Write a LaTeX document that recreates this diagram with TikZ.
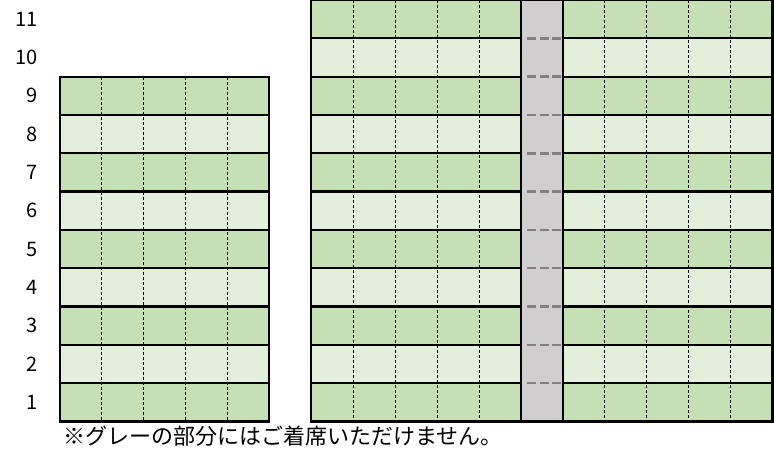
\documentclass[tikz,border=0pt]{standalone}
\usepackage{fontspec}
\setmainfont{Noto Sans CJK JP}
\definecolor{dg}{HTML}{C5E0B4}
\definecolor{lg}{HTML}{E2EFDA}
\definecolor{gr}{HTML}{D0CECE}
\definecolor{dsh}{HTML}{808080}
\tikzset{
 rowlbl/.style={anchor=east,font=\fontsize{20}{24}\selectfont,inner sep=0pt},
 frame/.style={line width=2.2pt,black},
 divider/.style={line width=1pt,black,dash pattern=on 3pt off 2pt},
 aisle/.style={line width=2.5pt,dsh,dash pattern=on 9pt off 3.5pt},
 notetext/.style={anchor=west,font=\fontsize{22}{26}\selectfont,inner sep=0pt}
}
\begin{document}
\begin{tikzpicture}[x=1pt,y=-1pt]
\useasboundingbox (0,0) rectangle (774,460);
% row fills and labels
\foreach \i in {1,...,11} {
  \pgfmathsetmacro\yt{421.5-\i*38.32}
  \pgfmathsetmacro\yb{\yt+38.32}
  \pgfmathtruncatemacro\odd{mod(\i,2)}
  \ifnum\odd=1 \def\c{dg}\else\def\c{lg}\fi
  \fill[\c] (311.3,\yt) rectangle (521.3,\yb);
  \fill[\c] (563,\yt) rectangle (772.5,\yb);
  \ifnum\i<10 \fill[\c] (60,\yt) rectangle (269,\yb); \fi
  \node[rowlbl] (r\i) at (38,{\yt+19.16}) {\i};
}
% aisle
\fill[gr] (521.3,0) rectangle (563,421.5);
% vertical seat dividers
\foreach \k in {1,...,4} {
  \draw[divider] ({60+\k*41.8},76.7) -- ({60+\k*41.8},421.5);
  \draw[divider] ({311.3+\k*42},0) -- ({311.3+\k*42},421.5);
  \draw[divider] ({563+\k*41.9},0) -- ({563+\k*41.9},421.5);
}
% row boundaries
\foreach \j in {1,...,10} {
  \pgfmathsetmacro\y{421.5-\j*38.32}
  \draw[frame] (311.3,\y) -- (521.3,\y);
  \draw[frame] (563,\y) -- (772.5,\y);
  \ifnum\j<9 \draw[frame] (60,\y) -- (269,\y); \fi
  \draw[aisle] (527,\y) -- (561,\y);
}
% frames
\draw[frame] (60,76.7) rectangle (269,421.5);
\draw[frame] (311.3,0) rectangle (772.5,421.5);
\draw[frame] (521.3,0) -- (521.3,421.5);
\draw[frame] (563,0) -- (563,421.5);
% note
\node[notetext] (note) at (63,436) {※グレーの部分にはご着席いただけません。};
\end{tikzpicture}
\end{document}
